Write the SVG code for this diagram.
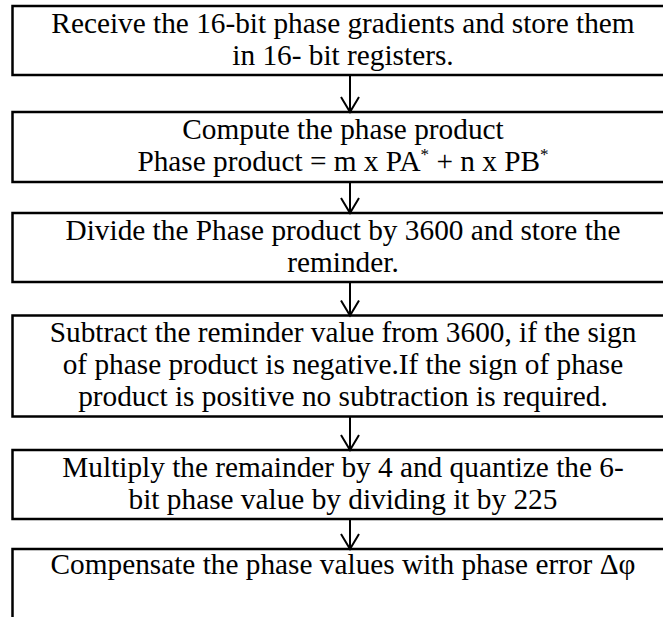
<svg xmlns="http://www.w3.org/2000/svg" width="663" height="617" viewBox="0 0 663 617">
<style>
.box{fill:#fff;stroke:#000;stroke-width:2.5}
.t{font-family:"Liberation Serif","Times New Roman",serif;font-size:29.3px;fill:#000;text-anchor:middle}
.c{stroke:#000;stroke-width:2;fill:none}
</style>
<rect width="663" height="617" fill="#fff"/>
<g id="node1"><rect class="box" x="12.5" y="6" width="670" height="69"/>
<text class="t" x="343" y="33">Receive the 16-bit phase gradients and store them</text>
<text class="t" x="343" y="65">in 16- bit registers.</text></g>
<g id="node2"><rect class="box" x="12.5" y="112" width="670" height="70"/>
<text class="t" x="343" y="139">Compute the phase product</text>
<text class="t" x="343" y="171">Phase product = m x PA<tspan dy="-11" font-size="17">*</tspan><tspan dy="11"> + n x PB</tspan><tspan dy="-11" font-size="17">*</tspan></text></g>
<g id="node3"><rect class="box" x="12.5" y="213" width="670" height="69"/>
<text class="t" x="343" y="240">Divide the Phase product by 3600 and store the</text>
<text class="t" x="343" y="272">reminder.</text></g>
<g id="node4"><rect class="box" x="12.5" y="315.5" width="670" height="101"/>
<text class="t" x="343" y="342">Subtract the reminder value from 3600, if the sign</text>
<text class="t" x="343" y="374">of phase product is negative.If the sign of phase</text>
<text class="t" x="343" y="406">product is positive no subtraction is required.</text></g>
<g id="node5"><rect class="box" x="12.5" y="450" width="670" height="69"/>
<text class="t" x="343" y="477">Multiply the remainder by 4 and quantize the 6-</text>
<text class="t" x="343" y="509">bit phase value by dividing it by 225</text></g>
<g id="node6"><path class="box" d="M12.5,630 V549 H690 V630"/>
<text class="t" x="343" y="574">Compensate the phase values with phase error Δφ</text></g>
<g id="connectors">
<path class="c" d="M350,75 V112 M341,97 L350,112 L359,97"/>
<path class="c" d="M350,182 V213 M341,198 L350,213 L359,198"/>
<path class="c" d="M350,282 V315.5 M341,300.5 L350,315.5 L359,300.5"/>
<path class="c" d="M350,416.5 V450 M341,435 L350,450 L359,435"/>
<path class="c" d="M350,519 V549 M341,534 L350,549 L359,534"/>
</g>
</svg>
